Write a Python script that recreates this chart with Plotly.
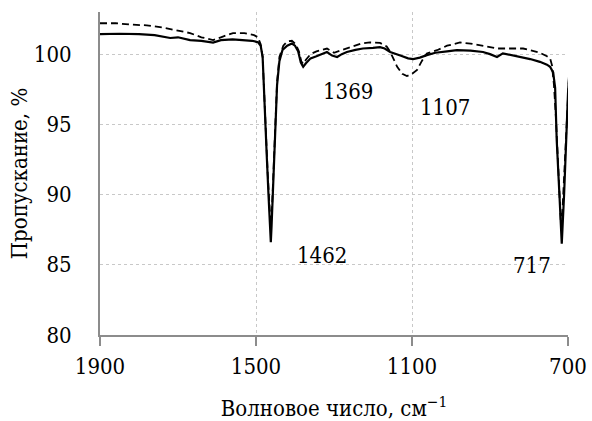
import plotly.graph_objects as go

# Solid spectrum
wn_solid = [1900, 1850, 1800, 1760, 1720, 1700, 1669, 1640, 1610, 1590, 1560, 1530, 1510, 1495,
            1488, 1483, 1477, 1472, 1468, 1465, 1462, 1460, 1457, 1454, 1451, 1446, 1440, 1432,
            1420, 1408, 1400, 1392, 1385, 1379, 1372, 1360, 1345, 1330, 1318, 1305, 1292, 1280,
            1267, 1245, 1226, 1200, 1182, 1170, 1156, 1130, 1110, 1097, 1080, 1062, 1040, 1010,
            985, 950, 918, 900, 882, 867, 840, 820, 797, 772, 754, 746, 738, 733, 729, 722, 716,
            710, 704, 700, 696]
t_solid = [101.42, 101.45, 101.42, 101.35, 101.15, 101.2, 101.0, 100.95, 100.82, 101.0, 101.05,
           101.0, 100.95, 100.85, 100.6, 99.8, 95.3, 92.5, 90.0, 88.2, 86.6, 87.8, 90.0, 92.8,
           95.3, 97.8, 99.5, 100.3, 100.6, 100.75, 100.6, 100.2, 99.4, 99.1, 99.35, 99.7, 99.85,
           100.0, 100.15, 99.9, 99.8, 100.0, 100.15, 100.3, 100.4, 100.45, 100.5, 100.4, 100.15,
           99.9, 99.7, 99.65, 99.75, 99.93, 100.1, 100.2, 100.28, 100.25, 100.15, 100.0, 99.8,
           100.05, 99.9, 99.8, 99.65, 99.45, 99.25, 99.1, 98.7, 97.6, 93.9, 90.0, 86.5, 90.0,
           94.6, 97.2, 98.9]

# Dashed spectrum
wn_dash = [1900, 1860, 1820, 1780, 1740, 1703, 1680, 1669, 1640, 1610, 1590, 1559, 1530, 1505,
           1495, 1488, 1483, 1477, 1470, 1465, 1462, 1459, 1455, 1451, 1446, 1440, 1430, 1420,
           1408, 1398, 1390, 1384, 1379, 1372, 1360, 1345, 1330, 1318, 1300, 1280, 1259, 1230,
           1208, 1182, 1165, 1156, 1138, 1125, 1113, 1100, 1087, 1075, 1062, 1036, 1010, 977,
           950, 926, 900, 882, 849, 815, 797, 772, 754, 746, 741, 736, 731, 725, 721, 718, 714,
           709, 704, 700, 696]
t_dash = [102.2, 102.2, 102.1, 102.05, 101.9, 101.7, 101.55, 101.5, 101.2, 101.0, 101.2, 101.5,
          101.5, 101.35, 101.2, 100.7, 99.8, 95.5, 91.5, 89.0, 87.8, 89.0, 92.0, 95.5, 98.0,
          99.8, 100.6, 100.9, 100.95, 100.7, 100.2, 99.5, 99.3, 99.6, 100.0, 100.2, 100.3,
          100.4, 100.1, 100.3, 100.5, 100.75, 100.83, 100.8, 100.55, 100.17, 99.1, 98.6, 98.44,
          98.6, 98.87, 99.5, 100.05, 100.28, 100.6, 100.83, 100.75, 100.64, 100.5, 100.4, 100.4,
          100.4, 100.28, 100.1, 99.85, 99.7, 99.2, 97.8, 95.5, 91.5, 89.0, 87.8, 89.0, 92.0,
          95.0, 97.5, 99.2]

# Peak labels
peak_labels = ["1369", "1107", "1462", "717"]
peak_x = [1264, 1015, 1331, 792]
peak_y = [97.37, 96.19, 85.69, 84.98]

x_ticks = [1900, 1500, 1100, 700]
y_ticks = [80, 85, 90, 95, 100]

FONT = "DejaVu Serif Condensed, DejaVu Serif"
FS = 22

fig = go.Figure()
fig.add_trace(go.Scatter(x=wn_dash, y=t_dash, mode="lines",
                         line=dict(color="black", width=1.8, dash="7px,4px"),
                         showlegend=False, hoverinfo="skip"))
fig.add_trace(go.Scatter(x=wn_solid, y=t_solid, mode="lines",
                         line=dict(color="black", width=2.2),
                         showlegend=False, hoverinfo="skip"))

for lbl, xx, yy in zip(peak_labels, peak_x, peak_y):
    fig.add_annotation(x=xx, y=yy, text=lbl, showarrow=False,
                       font=dict(family=FONT, size=FS, color="black"))

fig.update_layout(
    width=592, height=421,
    margin=dict(l=100, r=24, t=12, b=86),
    paper_bgcolor="white", plot_bgcolor="white",
    font=dict(family=FONT, size=FS, color="black"),
    xaxis=dict(range=[1900, 700], tickvals=x_ticks, ticktext=[str(v) for v in x_ticks],
               automargin=False,
               showline=True, linecolor="#8c8c8c", linewidth=2,
               ticks="outside", ticklen=9, tickwidth=1.5, tickcolor="#8c8c8c",
               ticklabelstandoff=2,
               showgrid=True, gridcolor="#c8c8c8", griddash="3px,3px", gridwidth=1,
               zeroline=False,
               title=dict(text="Волновое число, см<sup>−1</sup>", standoff=24,
                          font=dict(family=FONT, size=FS))),
    yaxis=dict(range=[80, 103], tickvals=y_ticks, automargin=False,
               showline=True, linecolor="#8c8c8c", linewidth=2,
               ticks="", ticklabelstandoff=22,
               showgrid=True, gridcolor="#c8c8c8", griddash="3px,3px", gridwidth=1,
               zeroline=False,
               title=dict(text="Пропускание, %", standoff=0,
                          font=dict(family=FONT, size=FS))),
)

fig.write_html("out.html", config={"displayModeBar": False},
               post_script="document.body.style.margin='0';document.body.style.overflow='hidden';")
